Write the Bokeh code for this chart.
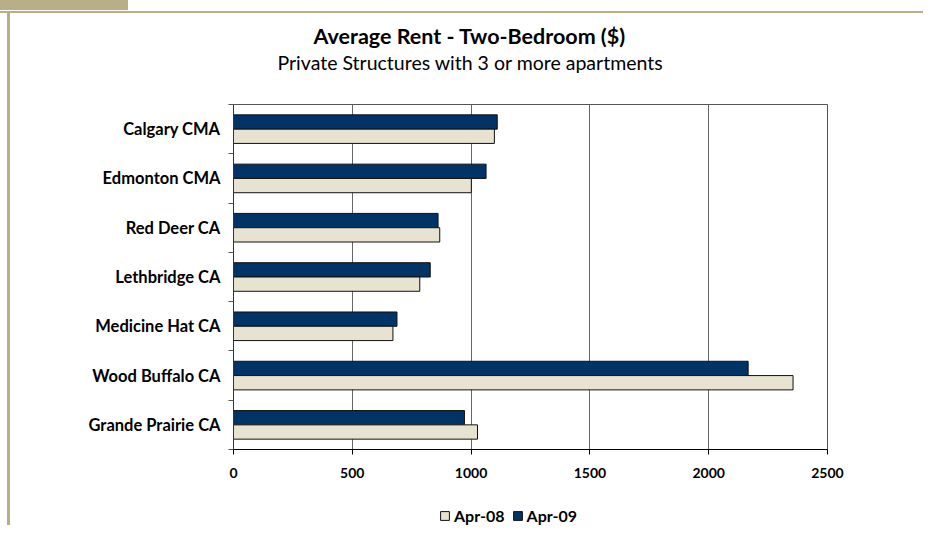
from bokeh.plotting import figure
from bokeh.layouts import column
from bokeh.models import (Range1d, FixedTicker, Title, Legend, LegendItem,
                          ColumnDataSource)
from bokeh.embed import file_html
from bokeh.resources import INLINE

categories = ["Calgary CMA", "Edmonton CMA", "Red Deer CA", "Lethbridge CA",
              "Medicine Hat CA", "Wood Buffalo CA", "Grande Prairie CA"]
apr08 = [1098, 1001, 868, 784, 671, 2355, 1027]
apr09 = [1110, 1063, 861, 828, 688, 2166, 972]
x_ticks = [0, 500, 1000, 1500, 2000, 2500]

FONT = "Lato"
NAVY = "#003366"
BEIGE = "#E8E3D1"
KHAKI = "#B8AF88"

n = len(categories)
centers = [i + 0.5 for i in range(n)]
bar_h = 0.29

src = ColumnDataSource(dict(
    y09=[c - bar_h / 2 for c in centers],
    y08=[c + bar_h / 2 for c in centers],
    v08=apr08, v09=apr09))

W = 923
H_MAIN = 489
H_LEG = 36

p = figure(width=W, height=H_MAIN, output_backend="svg", toolbar_location=None,
           x_range=Range1d(0, 2500), y_range=Range1d(n, 0),
           min_border_left=233, min_border_right=96, min_border_top=104,
           min_border_bottom=40)
p.title.visible = False
p.background_fill_color = "white"
p.border_fill_color = None
p.outline_line_color = "#555555"
p.outline_line_width = 1
p.styles = {
    "background": (
        f"linear-gradient({KHAKI},{KHAKI}) 0px 0px / 128px 10px no-repeat, "
        f"linear-gradient({KHAKI},{KHAKI}) 0px 11px / 100% 2px no-repeat, "
        f"linear-gradient({KHAKI},{KHAKI}) 7px 11px / 3px 100% no-repeat, "
        "white"
    )
}

p.hbar(y="y09", right="v09", left=0, height=bar_h, source=src,
       fill_color=NAVY, line_color="#111111", line_width=1)
p.hbar(y="y08", right="v08", left=0, height=bar_h, source=src,
       fill_color=BEIGE, line_color="#111111", line_width=1)

# x axis
p.xaxis.ticker = FixedTicker(ticks=x_ticks)
p.xaxis.minor_tick_line_color = None
p.xaxis.major_tick_out = 5
p.xaxis.major_tick_in = 0
p.xaxis.axis_line_color = "black"
p.xaxis.major_tick_line_color = "black"
p.xaxis.major_label_text_font = FONT
p.xaxis.major_label_text_font_style = "bold"
p.xaxis.major_label_text_font_size = "14px"
p.xaxis.major_label_text_color = "black"
p.xaxis.major_label_standoff = 13

# y axis
p.yaxis.ticker = FixedTicker(ticks=centers, minor_ticks=list(range(n + 1)))
p.yaxis.major_label_overrides = {c: name for c, name in zip(centers, categories)}
p.yaxis.major_tick_line_color = None
p.yaxis.major_tick_out = 0
p.yaxis.major_tick_in = 0
p.yaxis.minor_tick_out = 5
p.yaxis.minor_tick_in = 0
p.yaxis.minor_tick_line_color = "#555555"
p.yaxis.axis_line_color = "#333333"
p.yaxis.major_label_text_font = FONT
p.yaxis.major_label_text_font_style = "bold"
p.yaxis.major_label_text_font_size = "16.5px"
p.yaxis.major_label_text_color = "black"
p.yaxis.major_label_standoff = 8

p.ygrid.grid_line_color = None
p.xgrid.grid_line_color = "#666666"
p.xgrid.grid_line_width = 1

# titles (nearest the frame first)
p.add_layout(Title(text=" ", text_font_size="25px", standoff=1), "above")
p.add_layout(Title(text="Private Structures with 3 or more apartments",
                   text_font=FONT, text_font_size="19.5px",
                   text_font_style="normal", text_color="black",
                   align="left", offset=44, standoff=0), "above")
p.add_layout(Title(text="Average Rent - Two-Bedroom ($)",
                   text_font=FONT, text_font_size="21.5px",
                   text_font_style="bold", text_color="black",
                   align="left", offset=80, standoff=0), "above")

# legend strip below the chart (its renderers lie outside its ranges)
lf = figure(width=W, height=H_LEG, output_backend="svg", toolbar_location=None,
            x_range=Range1d(5000, 6000), y_range=Range1d(100, 200),
            x_axis_type=None, y_axis_type=None,
            min_border_left=0, min_border_right=0, min_border_top=0,
            min_border_bottom=0)
lf.title.visible = False
lf.outline_line_color = None
lf.background_fill_color = None
lf.border_fill_color = None
lf.grid.visible = False
lf.styles = {
    "background": (
        f"linear-gradient({KHAKI},{KHAKI}) 7px 0px / 3px 100% no-repeat, white"
    )
}
l09 = lf.hbar(y="y09", right="v09", left=0, height=bar_h, source=src,
              fill_color=NAVY, line_color="#111111", line_width=1)
l08 = lf.hbar(y="y08", right="v08", left=0, height=bar_h, source=src,
              fill_color=BEIGE, line_color="#111111", line_width=1)

legend = Legend(items=[LegendItem(label="Apr-08", renderers=[l08]),
                       LegendItem(label="Apr-09", renderers=[l09])],
                orientation="horizontal", location=(206, 0),
                glyph_width=11, glyph_height=11, label_standoff=4,
                spacing=7, padding=0, margin=0,
                border_line_color=None, background_fill_alpha=0,
                label_text_font=FONT, label_text_font_style="bold",
                label_text_font_size="16px", label_text_color="black",
                label_height=16)
lf.add_layout(legend, "center")

layout = column(p, lf, spacing=0)
open("out.html", "w").write(file_html(layout, INLINE))
